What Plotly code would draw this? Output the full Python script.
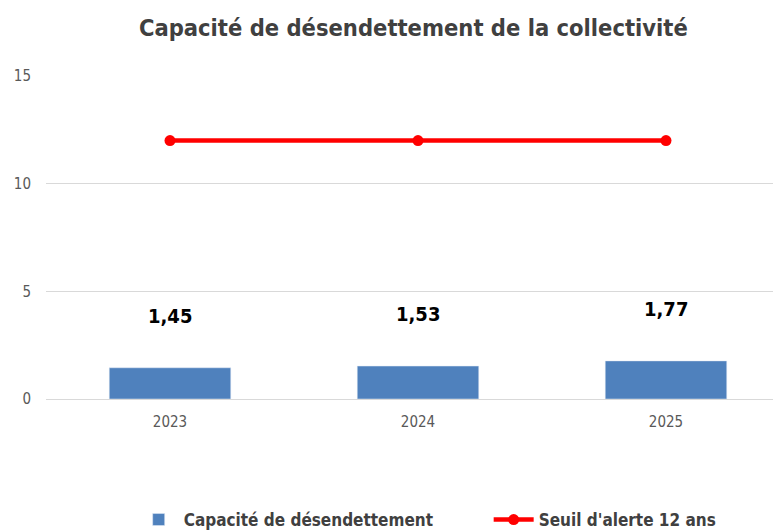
import plotly.graph_objects as go

# --- Data ---
years = ["2023", "2024", "2025"]
capacite = [1.45, 1.53, 1.77]
seuil = [12, 12, 12]
labels = ["1,45", "1,53", "1,77"]

font_family = "DejaVu Sans Condensed, Liberation Sans Narrow, sans-serif"

fig = go.Figure()

fig.add_trace(go.Bar(
    x=years,
    y=capacite,
    name="Capacité de désendettement",
    marker_color="#4f81bd",
    width=0.49,
))

fig.add_trace(go.Scatter(
    x=years,
    y=seuil,
    name="Seuil d'alerte 12 ans",
    mode="lines+markers",
    line=dict(color="#ff0000", width=4.5),
    marker=dict(color="#ff0000", size=11),
))

# data labels above the bars (x given as category index)
for i, (v, lab) in enumerate(zip(capacite, labels)):
    fig.add_annotation(
        x=i, y=v, xref="x", yref="y", text="<b>" + lab + "</b>",
        showarrow=False, yanchor="middle", yshift=52,
        font=dict(family=font_family, size=20, color="#000000"),
    )

# note: the page body adds an 8px offset, margins are reduced to compensate
fig.update_layout(
    width=781,
    height=530,
    margin=dict(l=38, r=0, t=68, b=139, autoexpand=False),
    paper_bgcolor="white",
    plot_bgcolor="white",
    title=dict(
        text="<b>Capacité de désendettement de la collectivité</b>",
        x=0.519, xanchor="center", xref="container",
        y=1 - 20 / 530, yanchor="middle",
        font=dict(family=font_family, size=23.5, color="#404040"),
    ),
    showlegend=True,
    legend=dict(
        orientation="h",
        x=0.118, xanchor="left",
        y=-0.3746, yanchor="middle",
        font=dict(family=font_family, size=17, color="#404040", weight="bold"),
        entrywidth=300, entrywidthmode="pixels",
        itemwidth=40,
        traceorder="normal",
    ),
    xaxis=dict(
        type="category",
        range=[-0.5, 2.496],
        showgrid=False,
        showline=False,
        ticks="",
        automargin=False,
        ticklabelstandoff=12,
        tickfont=dict(family=font_family, size=15, color="#595959"),
    ),
    yaxis=dict(
        range=[0, 15],
        tickvals=[0, 5, 10, 15],
        showgrid=True,
        gridcolor="#d9d9d9",
        gridwidth=1,
        zeroline=True,
        zerolinecolor="#d9d9d9",
        zerolinewidth=1,
        showline=False,
        ticks="",
        automargin=False,
        ticklabelstandoff=14,
        tickfont=dict(family=font_family, size=15, color="#595959"),
    ),
)

fig.write_html("out.html")
